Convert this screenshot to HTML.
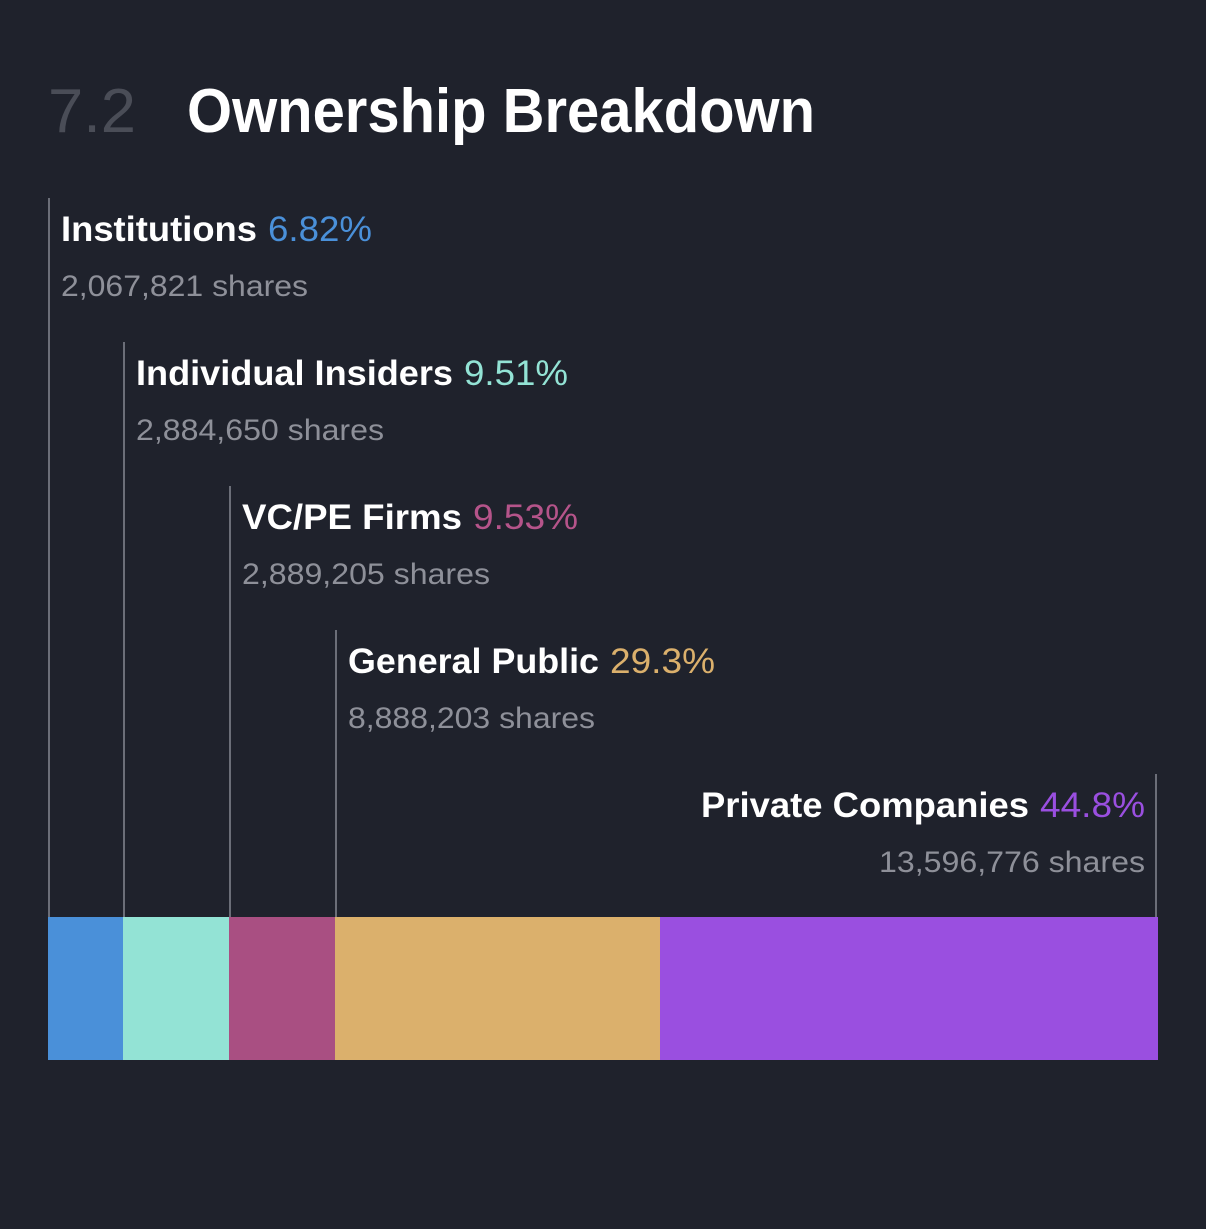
<!DOCTYPE html>
<html><head><meta charset="utf-8"><style>
html,body{margin:0;padding:0;background:#1f222c;}
svg{display:block}
text{font-family:"Liberation Sans",sans-serif}
</style></head><body>
<svg width="1206" height="1229" viewBox="0 0 1206 1229" xmlns="http://www.w3.org/2000/svg">
<rect width="1206" height="1229" fill="#1f222c"/>
<text x="48" y="132" font-size="62" fill="#4a4d57" textLength="88" lengthAdjust="spacingAndGlyphs">7.2</text>
<text x="187" y="132" font-size="62" font-weight="bold" fill="#ffffff" textLength="628" lengthAdjust="spacingAndGlyphs">Ownership Breakdown</text>
<g stroke="#6b6e78" stroke-width="2">
<line x1="49" y1="198" x2="49" y2="917"/>
<line x1="124" y1="342" x2="124" y2="917"/>
<line x1="230" y1="486" x2="230" y2="917"/>
<line x1="336" y1="630" x2="336" y2="917"/>
<line x1="1156" y1="774" x2="1156" y2="917"/>
</g>
<g font-size="35">
<text x="61" y="241" fill="#fff" font-weight="bold" textLength="196" lengthAdjust="spacingAndGlyphs">Institutions</text>
<text x="268" y="241" fill="#4a90d9" textLength="104" lengthAdjust="spacingAndGlyphs">6.82%</text>
<text x="136" y="385" fill="#fff" font-weight="bold" textLength="317" lengthAdjust="spacingAndGlyphs">Individual Insiders</text>
<text x="464" y="385" fill="#93e3d5" textLength="104" lengthAdjust="spacingAndGlyphs">9.51%</text>
<text x="242" y="529" fill="#fff" font-weight="bold" textLength="220" lengthAdjust="spacingAndGlyphs">VC/PE Firms</text>
<text x="473" y="529" fill="#b5548a" textLength="105" lengthAdjust="spacingAndGlyphs">9.53%</text>
<text x="348" y="673" fill="#fff" font-weight="bold" textLength="251" lengthAdjust="spacingAndGlyphs">General Public</text>
<text x="610" y="673" fill="#dbb06c" textLength="105" lengthAdjust="spacingAndGlyphs">29.3%</text>
<text x="701" y="817" fill="#fff" font-weight="bold" textLength="328" lengthAdjust="spacingAndGlyphs">Private Companies</text>
<text x="1040" y="817" fill="#9a4fe0" textLength="105" lengthAdjust="spacingAndGlyphs">44.8%</text>
</g>
<g font-size="30" fill="#8e9099">
<text x="61" y="296" textLength="247" lengthAdjust="spacingAndGlyphs">2,067,821 shares</text>
<text x="136" y="440" textLength="248" lengthAdjust="spacingAndGlyphs">2,884,650 shares</text>
<text x="242" y="584" textLength="248" lengthAdjust="spacingAndGlyphs">2,889,205 shares</text>
<text x="348" y="728" textLength="247" lengthAdjust="spacingAndGlyphs">8,888,203 shares</text>
<text x="879" y="872" textLength="266" lengthAdjust="spacingAndGlyphs">13,596,776 shares</text>
</g>
<rect x="48" y="917" width="75" height="143" fill="#4a90d9"/>
<rect x="123" y="917" width="106" height="143" fill="#93e3d5"/>
<rect x="229" y="917" width="106" height="143" fill="#a94f82"/>
<rect x="335" y="917" width="325" height="143" fill="#dbb06c"/>
<rect x="660" y="917" width="498" height="143" fill="#9a4fe0"/>
</svg>
</body></html>
